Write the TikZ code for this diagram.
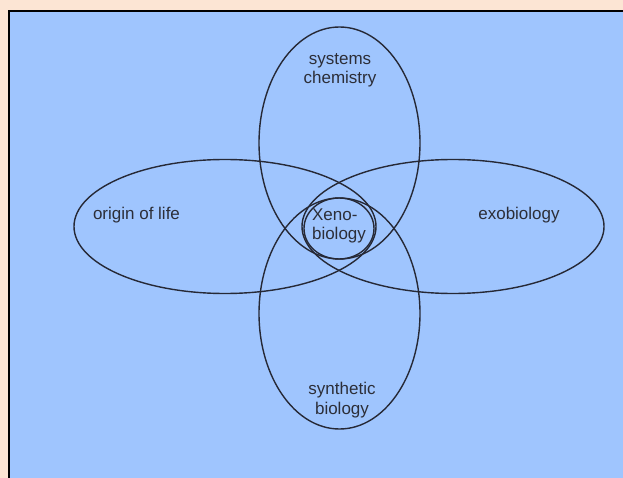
\documentclass[tikz,border=0pt]{standalone}
\usepackage{fontspec}
\setmainfont{Liberation Sans}
\definecolor{bgpeach}{HTML}{FCE5D4}
\definecolor{panelblue}{HTML}{9FC5FE}
\definecolor{ink}{HTML}{262936}
\definecolor{txt}{HTML}{2C2E38}
\begin{document}
\begin{tikzpicture}[x=1pt,y=-1pt,
  ring/.style={draw=ink,line width=1.4pt},
  lbl/.style={text=txt,font=\fontsize{17}{19.5}\selectfont,align=center,inner sep=0pt}]
\fill[bgpeach] (0,0) rectangle (623,478);
\useasboundingbox (0,0) rectangle (623,478);
\fill[panelblue] (8.5,10.8) rectangle (630,490);
\draw[black,line width=2pt] (8.5,490) -- (8.5,10.8) -- (630,10.8);
\draw[ring] (339.5,143) ellipse [x radius=80.5, y radius=116];
\draw[ring] (339.5,313.5) ellipse [x radius=80.5, y radius=115.5];
\draw[ring] (225,226.5) ellipse [x radius=151, y radius=67];
\draw[ring] (453,226.5) ellipse [x radius=151, y radius=67];
\draw[ring] (339,228.5) ellipse [x radius=35, y radius=30.5];
\node[lbl] (sc) at (340,70.5) {systems\\chemistry};
\node[lbl] (ol) at (136.5,215) {origin of life};
\node[lbl] (ex) at (519,215) {exobiology};
\node[lbl,align=left] (xb) at (339,226) {Xeno-\\biology};
\node[lbl] (sb) at (342,400) {synthetic\\biology};
\end{tikzpicture}
\end{document}
